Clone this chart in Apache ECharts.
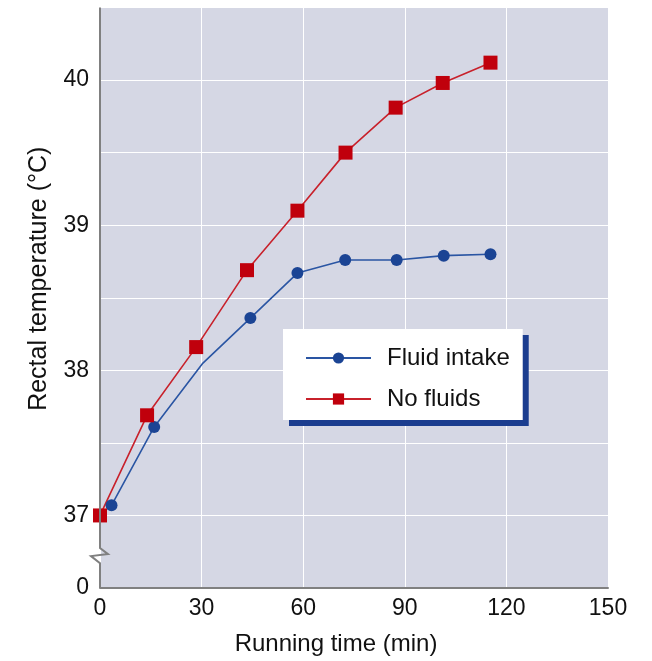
<!DOCTYPE html>
<html>
<head>
<meta charset="utf-8">
<script src="https://cdn.jsdelivr.net/npm/echarts@6/dist/echarts.min.js"></script>
<style>
  body { margin: 0; background: #fff; }
  #container { width: 652px; height: 661px; }
</style>
</head>
<body>
<div id="container"></div>
<script>
// values
const fluidTimes = [3.4, 16, 30.4, 44.4, 58.3, 72.4, 87.6, 101.5, 115.3]
const fluidTemps = [37.07, 37.61, 38.05, 38.36, 38.67, 38.76, 38.76, 38.79, 38.80]
const fluidMarker = [true, true, false, true, true, true, true, true, true]  // 30 min point has no dot
const noFluidTimes = [0, 13.9, 28.4, 43.4, 58.3, 72.5, 87.3, 101.2, 115.3]
const noFluidTemps = [37.0, 37.69, 38.16, 38.69, 39.10, 39.50, 39.81, 39.98, 40.12]
const yTickLabels = { 36.5: '0', 37: '37', 38: '38', 39: '39', 40: '40' }

const font = 'Liberation Sans, Arial, Helvetica, sans-serif'
const bg = '#d5d7e4'
const red = '#c0000c'
const blue = '#1b4494'

let divEle = document.getElementById('container')
let chart = echarts.init(divEle, null, { renderer: 'canvas' })

let fluidData = fluidTimes.map((t, i) => {
  let item = { value: [t, fluidTemps[i]] }
  if (!fluidMarker[i]) item.symbol = 'none'
  return item
})
let noFluidData = noFluidTimes.map((t, i) => [t, noFluidTemps[i]])

chart.setOption({
  animation: false,
  textStyle: { fontFamily: font },
  grid: {
    left: 100, right: 44, top: 7.5, bottom: 73,
    show: true, backgroundColor: bg, borderWidth: 0
  },
  legend: {
    orient: 'vertical',
    left: 283, top: 329,
    padding: [17, 13, 9, 22],
    itemWidth: 65, itemHeight: 14, itemGap: 17,
    backgroundColor: '#fff',
    shadowColor: '#1b3d8f', shadowBlur: 0, shadowOffsetX: 6, shadowOffsetY: 6,
    textStyle: { fontSize: 24, color: '#111', fontFamily: font, padding: [0, 0, 0, 11] },
    data: ['Fluid intake', 'No fluids']
  },
  xAxis: {
    type: 'value', min: 0, max: 150, interval: 30,
    name: 'Running time (min)', nameLocation: 'middle', nameGap: 44,
    nameTextStyle: { fontSize: 24, color: '#111', padding: [0, 36, 0, 0] },
    axisLine: { show: true, lineStyle: { color: '#808080', width: 2 } },
    axisTick: { show: false },
    axisLabel: { fontSize: 23, color: '#111', margin: 9 },
    splitLine: { show: true, lineStyle: { color: '#fff', width: 1 } }
  },
  yAxis: {
    type: 'value', min: 36.5, max: 40.5, interval: 0.5,
    name: 'Rectal temperature (°C)', nameLocation: 'middle', nameGap: 48,
    nameTextStyle: { fontSize: 25, color: '#111', padding: [0, 0, 0, 38] },
    axisLine: { show: false },
    axisTick: { show: false },
    axisLabel: {
      fontSize: 23, color: '#111', margin: 11,
      formatter: v => yTickLabels[v] || ''
    },
    splitLine: { show: true, lineStyle: { color: '#fff', width: 1 } }
  },
  series: [
    {
      name: 'Fluid intake', type: 'line', data: fluidData,
      symbol: 'circle', symbolSize: 12,
      itemStyle: { color: blue },
      lineStyle: { color: '#2a55a3', width: 1.6 }
    },
    {
      name: 'No fluids', type: 'line', data: noFluidData,
      symbol: 'rect', symbolSize: 14,
      itemStyle: { color: red },
      lineStyle: { color: '#c8212b', width: 1.6 }
    }
  ]
})

// left axis line with the break mark, placed through the axis scales
let pTop = chart.convertToPixel({ gridIndex: 0 }, [0, 40.5])
let pBot = chart.convertToPixel({ gridIndex: 0 }, [0, 36.5])
let b1 = chart.convertToPixel({ gridIndex: 0 }, [0, 36.775])
let b2 = chart.convertToPixel({ gridIndex: 0 }, [0, 36.67])
let x0 = pTop[0]
chart.setOption({
  graphic: [{
    type: 'polyline', z: 10,
    shape: {
      points: [
        [x0, pTop[1]], [x0, b1[1]], [x0 + 8, b1[1] + 6],
        [x0 - 9, b1[1] + 8], [x0, b2[1]], [x0, pBot[1]]
      ]
    },
    style: { stroke: '#808080', lineWidth: 2, fill: null }
  }]
})
</script>
</body>
</html>
